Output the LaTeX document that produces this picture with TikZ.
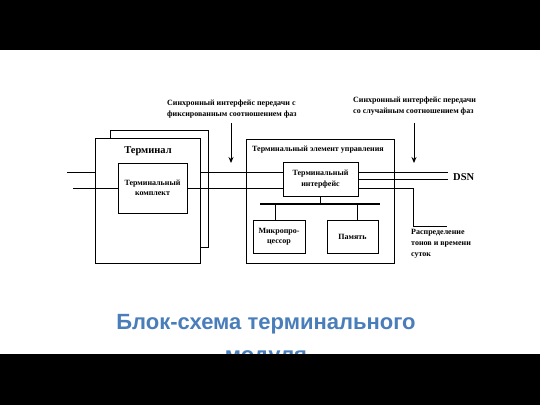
\documentclass[tikz,border=0pt]{standalone}
\usepackage{fontspec}
\setmainfont{Liberation Serif}
\newfontfamily\titlefont{Liberation Sans}
\usetikzlibrary{arrows.meta,calc}
\definecolor{titleblue}{RGB}{74,126,187}
\begin{document}
\begin{tikzpicture}[x=1pt,y=-1pt,
  blk/.style={draw, fill=white, line width=0.9pt, inner sep=0pt, align=center, font=\fontsize{8}{10.5}\selectfont\bfseries},
  wire/.style={line width=0.9pt},
  lbl/.style={font=\fontsize{8}{11.2}\selectfont\bfseries, align=left, inner sep=0pt},
  arr/.style={line width=0.9pt, -{Stealth[length=6pt,width=5pt]}}]
\useasboundingbox (0,0) rectangle (540,405);
\fill[white] (0,0) rectangle (540,405);
% terminal
\node[blk, minimum width=98pt, minimum height=117pt] (back) at (159,188.5) {};
\node[blk, minimum width=105pt, minimum height=125pt] (term) at (147.5,200.5) {};
\node[font=\fontsize{10.5}{12}\selectfont\bfseries, inner sep=0pt] (termlbl) at (148,151) {Терминал};
\node[blk, minimum width=69pt, minimum height=50pt] (kompl) at (152.5,188) {Терминальный\\комплект};
% control element
\node[blk, minimum width=148pt, minimum height=124pt] (ctrl) at (320,201) {};
\node[lbl, anchor=west] (ctrllbl) at (252,150) {Терминальный элемент управления};
\node[blk, minimum width=75pt, minimum height=34pt] (iface) at (320.5,179) {Терминальный\\интерфейс};
\node[blk, minimum width=52pt, minimum height=33pt] (cpu) at (279,236.5) {Микропро-\\цессор};
\node[blk, minimum width=51pt, minimum height=33pt] (mem) at (352.5,236.5) {Память};
% bus
\coordinate (busL) at (260,204);
\coordinate (busR) at (380,204);
\draw[line width=2.2pt] (busL) -- (busR);
\draw[wire] (iface.south) -- (iface.south |- busL);
\draw[wire] ($(cpu.north)+(-4,0)$) -- ($(cpu.north |- busL)+(-4,0)$);
\draw[wire] ($(mem.north)+(4.5,0)$) -- ($(mem.north |- busL)+(4.5,0)$);
% wires
\coordinate (in1) at (67,172);
\coordinate (in2) at (73,188);
\coordinate (dsn1) at (448,172);
\coordinate (dsn2) at (448,179);
\coordinate (corner) at (413,188);
\coordinate (dist) at (447,226);
\draw[wire] (in1) -- (in1 -| term.west);
\draw[wire] (term.east |- in1) -- (iface.west |- in1);
\draw[wire] (in2) -- (kompl.west |- in2);
\draw[wire] (kompl.east |- in2) -- (iface.west |- in2);
\draw[wire] (iface.east |- dsn1) -- (dsn1);
\draw[wire] (iface.east |- dsn2) -- (dsn2);
\draw[wire] (iface.east |- corner) -- (corner) -- (corner |- dist) -- (dist);
\node[font=\fontsize{10.5}{12}\selectfont\bfseries, anchor=west, inner sep=0pt] (dsn) at (453,177) {DSN};
% arrows and labels
\coordinate (a1s) at (231,123);
\coordinate (a1e) at (231,163);
\coordinate (a2s) at (414,123);
\coordinate (a2e) at (414,163);
\draw[arr] (a1s) -- (a1e);
\draw[arr] (a2s) -- (a2e);
\node[lbl, anchor=west] (lab1) at (167,109) {Синхронный интерфейс передачи с\\фиксированным соотношением фаз};
\node[lbl, anchor=west] (lab2) at (353,106) {Синхронный интерфейс передачи\\со случайным соотношением фаз};
\node[lbl, anchor=north west] (lab3) at (411,229) {Распределение\\тонов и времени\\суток};
% title
\node[font=\titlefont\bfseries\fontsize{22}{26}\selectfont, text=titleblue, anchor=base] (title1) at (266,329) {Блок-схема терминального};
\node[font=\titlefont\bfseries\fontsize{22}{26}\selectfont, text=titleblue, anchor=base] (title2) at (266,362) {модуля};
% black bars
\fill[black] (0,0) rectangle (540,50);
\fill[black] (0,354) rectangle (540,405);
\end{tikzpicture}
\end{document}
